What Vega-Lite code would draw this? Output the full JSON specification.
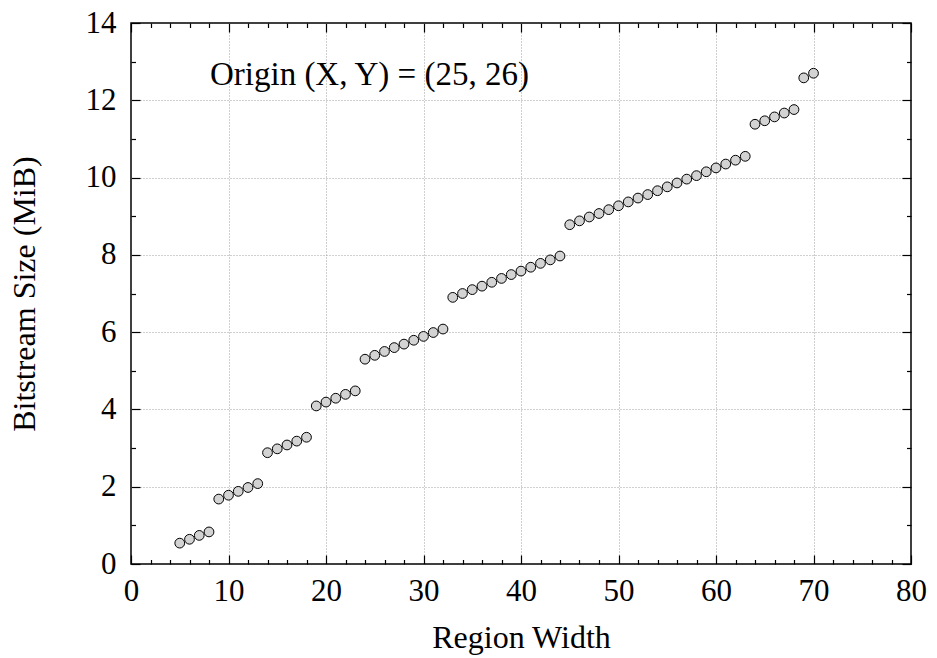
{
  "$schema": "https://vega.github.io/schema/vega-lite/v6.json",
  "autosize": {"type": "none"},
  "padding": {"left": 131, "top": 23, "right": 26, "bottom": 94},
  "width": 780,
  "height": 541,
  "background": "white",
  "config": {
    "view": {"stroke": "black", "strokeWidth": 1.5},
    "font": "Liberation Serif",
    "axis": {
      "domain": false,
      "tickColor": "black",
      "tickWidth": 1.2,
      "labelFont": "Liberation Serif",
      "labelFontSize": 31,
      "labelColor": "black",
      "titleFont": "Liberation Serif",
      "titleFontSize": 32,
      "titleFontWeight": "normal",
      "titleColor": "black",
      "gridColor": "#a0a0a0",
      "gridDash": [1, 2],
      "gridWidth": 1
    }
  },
  "data": {
    "values": [
      {"x": 5, "y": 0.54}, {"x": 6, "y": 0.64}, {"x": 7, "y": 0.74}, {"x": 8, "y": 0.83},
      {"x": 9, "y": 1.68}, {"x": 10, "y": 1.78}, {"x": 11, "y": 1.88}, {"x": 12, "y": 1.98}, {"x": 13, "y": 2.08},
      {"x": 14, "y": 2.88}, {"x": 15, "y": 2.98}, {"x": 16, "y": 3.08}, {"x": 17, "y": 3.18}, {"x": 18, "y": 3.28},
      {"x": 19, "y": 4.09}, {"x": 20, "y": 4.19}, {"x": 21, "y": 4.29}, {"x": 22, "y": 4.39}, {"x": 23, "y": 4.48},
      {"x": 24, "y": 5.3}, {"x": 25, "y": 5.4}, {"x": 26, "y": 5.5}, {"x": 27, "y": 5.6}, {"x": 28, "y": 5.69}, {"x": 29, "y": 5.79}, {"x": 30, "y": 5.89}, {"x": 31, "y": 5.99}, {"x": 32, "y": 6.08},
      {"x": 33, "y": 6.9}, {"x": 34, "y": 7.0}, {"x": 35, "y": 7.1}, {"x": 36, "y": 7.19}, {"x": 37, "y": 7.29}, {"x": 38, "y": 7.39}, {"x": 39, "y": 7.49}, {"x": 40, "y": 7.58}, {"x": 41, "y": 7.68}, {"x": 42, "y": 7.78}, {"x": 43, "y": 7.87}, {"x": 44, "y": 7.97},
      {"x": 45, "y": 8.78}, {"x": 46, "y": 8.88}, {"x": 47, "y": 8.98}, {"x": 48, "y": 9.07}, {"x": 49, "y": 9.17}, {"x": 50, "y": 9.27}, {"x": 51, "y": 9.37}, {"x": 52, "y": 9.47}, {"x": 53, "y": 9.56}, {"x": 54, "y": 9.66}, {"x": 55, "y": 9.76}, {"x": 56, "y": 9.86}, {"x": 57, "y": 9.96}, {"x": 58, "y": 10.05}, {"x": 59, "y": 10.15}, {"x": 60, "y": 10.25}, {"x": 61, "y": 10.35}, {"x": 62, "y": 10.45}, {"x": 63, "y": 10.55},
      {"x": 64, "y": 11.38}, {"x": 65, "y": 11.47}, {"x": 66, "y": 11.57}, {"x": 67, "y": 11.67}, {"x": 68, "y": 11.76},
      {"x": 69, "y": 12.58}, {"x": 70, "y": 12.7}
    ]
  },
  "layer": [
    {
      "mark": {"type": "point", "shape": "circle", "filled": true, "fill": "#d3d3d3", "stroke": "black", "strokeWidth": 1, "opacity": 1, "size": 95},
      "encoding": {
        "x": {
          "field": "x", "type": "quantitative",
          "scale": {"domain": [0, 80], "nice": false, "zero": false},
          "axis": {
            "orient": "bottom",
            "values": [0,10,20,30,40,50,60,70,80],
            "tickSize": -9,
            "labelPadding": 21,
            "labelFlush": false,
            "labelOverlap": false,
            "grid": true,
            "gridOpacity": {"condition": {"test": "datum.value > 0 && datum.value < 80", "value": 1}, "value": 0},
            "title": "Region Width",
            "titlePadding": 16
          }
        },
        "y": {
          "field": "y", "type": "quantitative",
          "scale": {"domain": [0, 14], "nice": false, "zero": false},
          "axis": {
            "orient": "left",
            "values": [0,2,4,6,8,10,12,14],
            "tickSize": -9,
            "labelPadding": 24,
            "labelFlush": false,
            "labelOverlap": false,
            "grid": true,
            "gridOpacity": {"condition": {"test": "datum.value > 0 && datum.value < 14", "value": 1}, "value": 0},
            "title": "Bitstream Size (MiB)",
            "titlePadding": 44
          }
        }
      }
    },
    {
      "mark": {"type": "point", "opacity": 0},
      "encoding": {
        "x": {
          "field": "x", "type": "quantitative",
          "axis": {
            "orient": "bottom",
            "values": [2,4,6,8,12,14,16,18,22,24,26,28,32,34,36,38,42,44,46,48,52,54,56,58,62,64,66,68,72,74,76,78],
            "labels": false,
            "tickSize": -4.5,
            "grid": false,
            "title": null
          }
        },
        "y": {
          "field": "y", "type": "quantitative",
          "axis": {
            "orient": "left",
            "values": [1,3,5,7,9,11,13],
            "labels": false,
            "tickSize": -4.5,
            "grid": false,
            "title": null
          }
        }
      }
    },
    {
      "mark": {"type": "point", "opacity": 0},
      "encoding": {
        "x": {
          "field": "x", "type": "quantitative",
          "axis": {
            "orient": "top",
            "values": [0,2,4,6,8,10,12,14,16,18,20,22,24,26,28,30,32,34,36,38,40,42,44,46,48,50,52,54,56,58,60,62,64,66,68,70,72,74,76,78,80],
            "labels": false,
            "tickSize": {"condition": {"test": "datum.value % 10 === 0", "value": -9}, "value": -4.5},
            "grid": false,
            "title": null
          }
        },
        "y": {
          "field": "y", "type": "quantitative",
          "axis": {
            "orient": "right",
            "values": [0,1,2,3,4,5,6,7,8,9,10,11,12,13,14],
            "labels": false,
            "tickSize": {"condition": {"test": "datum.value % 2 === 0", "value": -9}, "value": -4.5},
            "grid": false,
            "title": null
          }
        }
      }
    },
    {
      "data": {"values": [{"label": "Origin (X, Y) = (25, 26)"}]},
      "mark": {"type": "text", "align": "left", "baseline": "alphabetic", "font": "Liberation Serif", "fontSize": 33, "color": "black"},
      "encoding": {
        "x": {"datum": 8.1, "type": "quantitative", "axis": null},
        "y": {"datum": 12.4, "type": "quantitative", "axis": null},
        "text": {"field": "label"}
      }
    }
  ],
  "resolve": {"axis": {"x": "independent", "y": "independent"}}
}
